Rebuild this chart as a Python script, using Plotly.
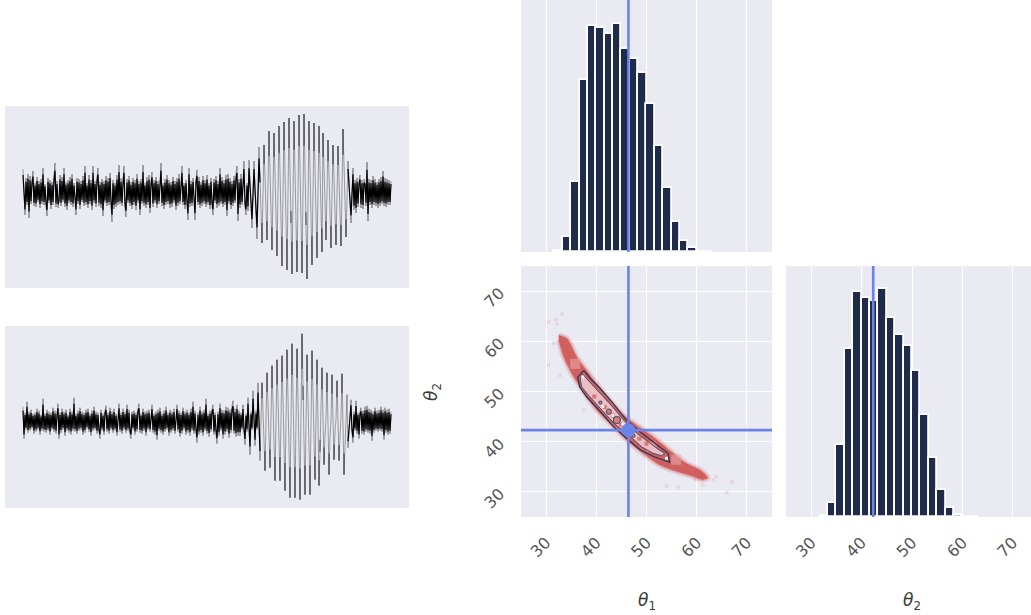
import plotly.graph_objects as go

# ---------- data ----------
wave_top = [
 24,-10,-22,15,-12,19,-25,17,-11,13,
 22,-13,10,-14,16,-9,12,-15,14,-11,
 25,-12,9,-13,-23,15,-10,13,-16,11,
 -12,17,30,-14,12,-15,-10,18,-13,16,
 -9,25,-14,11,-17,13,-10,16,-12,19,
 -14,10,-13,-22,15,-11,14,-16,12,-9,
 17,-13,27,-12,10,-15,18,-11,13,-17,
 27,-10,12,-14,16,25,-13,11,-15,14,
 -23,12,-10,17,-13,15,-12,20,-11,-29,
 13,-16,10,-14,18,-12,28,-11,15,-13,
 12,27,-15,-24,14,-10,17,-13,11,-16,
 15,-12,13,-17,19,-10,12,-22,14,-11,
 28,-13,10,-15,16,-12,18,-20,11,21,
 -14,13,-10,16,-15,12,-11,17,30,-13,
 10,-16,14,-12,18,-11,13,-15,11,-14,
 16,-10,12,-17,15,-13,19,-11,14,27,
 -12,10,-16,13,-11,-27,25,-14,12,-13,
 15,-10,-27,14,23,-12,16,-15,11,-13,
 17,-11,13,-14,18,-12,10,-16,15,-13,
 -22,14,-10,17,-15,12,-13,25,-11,16,
 -14,13,-12,18,-23,19,-11,15,-16,12,
 -13,17,-10,20,27,-28,14,-15,19,-12,
 22,
 32,-14,-22,10,-18,
 33,10,-12,-35,-2,
 32,5,-20,-46,0,
 46,14,-18,-50,-2,
 48,16,-15,-47,8,
 62,22,-18,-57,2,
 60,19,-22,-63,2,
 67,20,-26,-73,-1,
 71,22,-28,-77,-1,
 75,24,-30,-81,-4,
 72,22,-29,-79,0,
 78,25,-28,-80,0,
 79,24,-32,-86,-7,
 72,24,-24,-72,-1,
 70,25,-20,-65,1,
 67,25,-17,-59,
 60,24,-10,-47,3,
 53,18,-20,-55,-3,
 48,14,-18,-52,-2,
 47,14,-20,-53,5,
 64,28,-8,-44,-6,
 32,12,-9,-30,-2,
 25,-17,13,-20,15,-14,12,18,-15,13,
 -16,14,12,-13,31,-28,14,-12,13,-15,
 17,-12,14,-13,11,-15,14,-13,16,-11,
 22,-13,15,-14,14,-12,13,-12,12,
]

wave_bottom = [
 15,-17,9,-8,20,-11,10,-9,12,-7,
 8,-12,9,-10,13,-8,11,-13,7,-9,
 23,-10,8,-11,12,-9,10,-13,9,-8,
 14,-10,11,-12,8,18,-17,9,-11,13,
 -8,10,-14,12,-9,7,-11,13,-13,10,
 -9,24,-10,8,-12,11,-9,14,-8,10,
 -13,9,-11,12,-7,13,-10,8,-14,11,
 -9,15,-8,10,-12,9,-11,-17,12,-9,
 8,-13,11,16,-10,9,-12,14,-8,10,
 -11,13,-9,8,-14,11,18,-10,9,-12,
 13,-8,10,-11,17,-9,12,-13,-17,10,
 -8,11,-13,9,-10,14,18,-11,8,-12,
 13,-9,10,-14,11,-8,12,-10,9,17,
 -11,8,-13,10,-18,12,-9,14,-11,8,
 -13,11,-10,15,-8,9,-14,12,-11,10,
 -9,13,-12,8,17,-10,11,-15,9,-12,
 14,-8,10,-13,12,-11,9,-14,13,-9,
 20,-12,11,-10,-21,9,-13,15,-11,10,
 -14,12,-9,23,-12,8,-15,11,-10,13,
 17,-13,9,-12,-22,10,-14,18,-9,12,
 -17,11,-13,15,-10,14,-16,12,-11,16,
 21,-12,13,-15,17,-14,11,
 -14,9,-8,17,-10,-23,8,-10,
 24,-9,-33,10,-8,
 31,-12,-24,11,-8,
 39,0,-39,0,
 39,10,-20,-49,0,
 49,18,-15,-46,5,
 56,18,-20,-59,1,
 62,22,-18,-59,3,
 66,22,-25,-69,1,
 72,22,-28,-76,1,
 78,26,-25,-76,-1,
 73,22,-28,-78,5,
 88,36,-22,-73,-3,
 67,20,-26,-73,-1,
 71,28,-15,-58,2,
 62,0,-64,-30,5,
 54,5,-43,-15,3,
 49,0,-53,-15,0,
 47,5,-38,-10,2,
 41,0,-39,-15,5,
 48,0,-53,-25,-2,
 27,-26,-5,10,
 22,-11,-21,10,-9,
 21,-12,9,-17,10,
 14,-12,11,-13,15,-10,16,-11,13,-12,
 12,-19,10,-11,14,-9,11,-10,12,-9,
 15,-10,12,-18,14,-11,12,-13,13,-12,10,
]

burst_start = 238
burst_end = 324
core_scale = 0.75
tip_min = 30
tip_fraction = 0.6

bin_centers = [32.5,34.17,35.83,37.5,39.17,40.83,42.5,44.17,45.83,47.5,49.17,
               50.83,52.5,54.17,55.83,57.5,59.17,60.83,62.5]
hist_theta1 = [3,45,211,515,678,673,655,685,608,578,537,443,318,193,91,34,11,1,1]
hist_theta2 = [3,43,217,505,676,657,649,683,597,547,513,437,305,176,82,28,7,1,1]

true_theta1 = 46.4
true_theta2 = 42.3

band_x = [32.5,34.2,36.1,38.8,42.1,45.4,48.0,51.3,55.3,57.9,60.6,62.2,
          61.2,59.2,55.9,52.6,49.3,46.0,43.4,40.1,37.5,35.1,33.5,32.5]
band_y = [61.2,60.5,56.9,53.2,48.9,45.3,43.3,41.0,37.7,35.7,34.4,32.8,
          32.4,33.1,34.1,35.4,37.7,40.4,43.0,46.3,49.9,53.6,56.9,60.2]

stray_x = [30.5,31.9,33.2,32.2,31.5,30.5,32.8,37.5,63.3,63.9,67.0,66.0,54.0,56.3,61.2,59.7]
stray_y = [63.8,64.3,65.4,63.4,59.6,55.3,53.2,46.3,32.4,33.0,32.0,29.9,31.2,31.0,31.3,32.4]

patch_x = [35.8,51.0,55.9]
patch_y = [55.5,39.0,36.4]

outer_x = [37.5,36.3,36.7,38.1,40.8,43.4,46.0,48.7,51.3,54.6,54.3,53.0,48.7,46.0,43.4,40.8,38.8,37.5]
outer_y = [54.2,52.8,50.9,48.9,46.0,43.0,40.7,38.4,37.1,35.9,37.7,38.7,42.0,44.3,47.6,50.6,52.6,54.2]
inner_x = [37.3,36.8,37.1,38.4,41.1,43.7,46.4,49.0,51.3,53.0,53.6,52.3,48.3,45.7,43.1,40.4,38.4,37.3]
inner_y = [53.4,52.4,50.9,49.3,46.3,43.5,41.4,39.0,37.7,37.2,37.7,38.5,41.5,44.0,47.1,50.1,52.2,53.4]

red_bits_x = [39.6,41.7,43.3,44.9,46.4,48.6,50.0]
red_bits_y = [49.0,46.9,45.2,43.4,42.6,40.6,39.6]
white_bits_x = [37.3,54.0,41.3,43.3,45.3]
white_bits_y = [52.9,36.7,47.0,45.2,43.5]
ring_x = [40.8,42.5,44.1,47.4]
ring_y = [47.8,46.0,44.3,41.2]
ring_size = [3,5,7,3]

tick_vals = [30,40,50,60,70]
tick_text = ["30","40","50","60","70"]

# ---------- styles ----------
W, H = 1031, 615
BG = "#EAEAF2"
NAVY = "#1F2B4A"
BLUE = "#6C83E8"
RED = "#D0605F"
TICK = "#555555"


def dx(a, b):
    return [a / W, b / W]


def dy(top, bottom):
    return [1 - bottom / H, 1 - top / H]


def core_of(values):
    return [None if burst_start <= i <= burst_end else v * core_scale
            for i, v in enumerate(values)]


def tips_of(values):
    xs, ys = [], []
    for i, v in enumerate(values):
        if burst_start <= i <= burst_end and abs(v) >= tip_min:
            xs += [i, i, None]
            ys += [v, v * tip_fraction, None]
    return xs, ys


fig = go.Figure()
off = dict(showgrid=False, zeroline=False, showticklabels=False, ticks="", showline=False)
tick_font = dict(family="DejaVu Sans", size=16, color=TICK)
grid_x = dict(tickmode="array", tickvals=tick_vals, ticktext=tick_text, showgrid=True,
              gridcolor="white", gridwidth=1.4, zeroline=False, showline=False)

layout = dict(
    width=W, height=H, margin=dict(l=0, r=0, t=0, b=0), showlegend=False,
    paper_bgcolor="white", plot_bgcolor=BG, bargap=0,
    xaxis=dict(domain=dx(5, 409), range=[-18, 386], anchor="y", **off),
    yaxis=dict(domain=dy(106, 288), range=[-95, 87], anchor="x", **off),
    xaxis2=dict(domain=dx(5, 409), range=[-18, 386], anchor="y2", **off),
    yaxis2=dict(domain=dy(326, 508), range=[-86.3, 95.7], anchor="x2", **off),
    xaxis3=dict(domain=dx(521, 772), range=[25, 75], anchor="y3", showticklabels=False, ticks="", **grid_x),
    yaxis3=dict(domain=dy(0, 252), range=[0, 756], anchor="x3", **off),
    xaxis4=dict(domain=dx(521, 772), range=[25, 75], anchor="y4", ticks="outside", ticklen=9,
                tickcolor="rgba(0,0,0,0)", tickangle=-45, tickfont=tick_font, **grid_x),
    yaxis4=dict(domain=dy(266, 517), range=[25, 75], anchor="x4", ticks="outside", ticklen=17,
                tickcolor="rgba(0,0,0,0)", tickangle=-45, tickfont=tick_font, **grid_x),
    xaxis5=dict(domain=dx(786, 1031), range=[25, 73.6], anchor="y5", ticks="outside", ticklen=9,
                tickcolor="rgba(0,0,0,0)", tickangle=-45, tickfont=tick_font, **grid_x),
    yaxis5=dict(domain=dy(266, 517), range=[0, 753], anchor="x5", **off),
)
fig.update_layout(**layout)

for values, xa, ya in [(wave_top, "x", "y"), (wave_bottom, "x2", "y2")]:
    xs = list(range(len(values)))
    tx, ty = tips_of(values)
    fig.add_trace(go.Scatter(x=xs, y=values, mode="lines",
                             line=dict(color="rgba(0,0,0,0.6)", width=0.6), xaxis=xa, yaxis=ya))
    fig.add_trace(go.Scatter(x=xs, y=core_of(values), mode="lines",
                             line=dict(color="black", width=1.2), xaxis=xa, yaxis=ya))
    fig.add_trace(go.Scatter(x=tx, y=ty, mode="lines",
                             line=dict(color="rgba(0,0,0,0.7)", width=0.9), xaxis=xa, yaxis=ya))

bar_style = dict(width=1.667, marker=dict(color=NAVY, line=dict(color="white", width=1.8)))
fig.add_trace(go.Bar(x=bin_centers, y=hist_theta1, xaxis="x3", yaxis="y3", **bar_style))
fig.add_trace(go.Bar(x=bin_centers, y=hist_theta2, xaxis="x5", yaxis="y5", **bar_style))
fig.add_trace(go.Scatter(x=[true_theta1, true_theta1], y=[0, 756], mode="lines",
                         line=dict(color=BLUE, width=2.6), xaxis="x3", yaxis="y3"))
fig.add_trace(go.Scatter(x=[true_theta2, true_theta2], y=[0, 753], mode="lines",
                         line=dict(color=BLUE, width=2.6), xaxis="x5", yaxis="y5"))

sc = dict(xaxis="x4", yaxis="y4")
fig.add_trace(go.Scatter(x=stray_x, y=stray_y, mode="markers",
                         marker=dict(color="rgba(208,96,95,0.15)", size=4), **sc))
fig.add_trace(go.Scatter(x=band_x, y=band_y, mode="lines",
                         line=dict(color="rgba(208,96,95,0.18)", width=6, shape="spline", smoothing=0.8), **sc))
fig.add_trace(go.Scatter(x=band_x, y=band_y, mode="lines", fill="toself", fillcolor=RED,
                         line=dict(color="rgba(208,96,95,0.35)", width=2.5, shape="spline", smoothing=0.8), **sc))
fig.add_trace(go.Scatter(x=patch_x, y=patch_y, mode="markers",
                         marker=dict(symbol="square", color="rgba(232,165,165,0.6)", size=10), **sc))
fig.add_trace(go.Scatter(x=inner_x, y=inner_y, mode="lines", fill="toself", fillcolor="#EBBFC4",
                         line=dict(color="#3A4563", width=0.9), **sc))
fig.add_trace(go.Scatter(x=red_bits_x, y=red_bits_y, mode="markers",
                         marker=dict(symbol="square", color="rgba(208,96,95,0.75)", size=4), **sc))
fig.add_trace(go.Scatter(x=white_bits_x, y=white_bits_y, mode="markers",
                         marker=dict(symbol="square", color="#F3F1F5", size=3), **sc))
fig.add_trace(go.Scatter(x=outer_x, y=outer_y, mode="lines",
                         line=dict(color="#2A3553", width=1.3), **sc))
fig.add_trace(go.Scatter(x=ring_x, y=ring_y, mode="markers",
                         marker=dict(color=RED, size=ring_size, line=dict(color=NAVY, width=1.2)), **sc))
fig.add_trace(go.Scatter(x=[true_theta1, true_theta1], y=[25, 75], mode="lines",
                         line=dict(color=BLUE, width=2.6), **sc))
fig.add_trace(go.Scatter(x=[25, 75], y=[true_theta2, true_theta2], mode="lines",
                         line=dict(color=BLUE, width=2.6), **sc))
fig.add_trace(go.Scatter(x=[true_theta1], y=[true_theta2], mode="markers",
                         marker=dict(color=BLUE, size=14), **sc))

title_font = dict(family="DejaVu Sans", size=17, color="#3a3a3a")
for text, px, py, angle in [("<i>θ</i><sub>1</sub>", 647, 601, 0),
                            ("<i>θ</i><sub>2</sub>", 912, 601, 0),
                            ("<i>θ</i><sub>2</sub>", 432, 392, -90)]:
    fig.add_annotation(text=text, x=px / W, y=1 - py / H, xref="paper", yref="paper",
                       showarrow=False, font=title_font, textangle=angle,
                       xanchor="center", yanchor="middle")

fig.update_traces(hoverinfo="skip")
fig.write_html("out.html", config={"displayModeBar": False},
               post_script="document.body.style.margin='0';")
